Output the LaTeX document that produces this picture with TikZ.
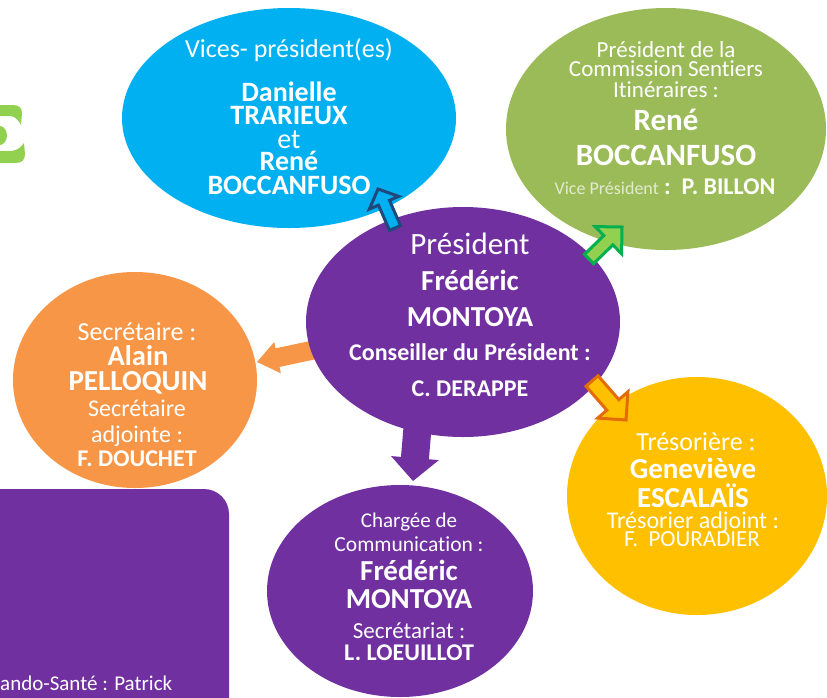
\documentclass[tikz,border=0pt]{standalone}
\usepackage{fontspec}
\setmainfont{Carlito}[Ligatures=NoCommon]
\usetikzlibrary{shapes.geometric,calc}
\definecolor{cblue}{HTML}{00B0F0}
\definecolor{cgreen}{HTML}{9BBB59}
\definecolor{cpurple}{HTML}{7030A0}
\definecolor{corange}{HTML}{F79646}
\definecolor{cyellow}{HTML}{FFC000}
\definecolor{egreen}{HTML}{92D050}
\definecolor{dblue}{HTML}{1F497D}
\definecolor{lgreen}{HTML}{92D050}
\definecolor{dgreen}{HTML}{00B050}
\definecolor{dorange}{HTML}{E36C09}
\definecolor{vplight}{HTML}{E2EAD0}
\newcommand\myfs[1]{\fontsize{#1}{#1}\selectfont}
% style, from, to, shaft half width, head half width, head length
\newcommand\fatarr[6]{%
  \coordinate (hb) at ($(#3)!#6!(#2)$);
  \path[#1] ($(#2)!#4!90:(#3)$) -- ($(hb)!#4!-90:(#2)$) -- ($(hb)!#5!-90:(#2)$) -- (#3)
    -- ($(hb)!#5!90:(#2)$) -- ($(hb)!#4!90:(#2)$) -- ($(#2)!#4!-90:(#3)$) -- cycle;
}
\begin{document}
\begin{tikzpicture}[x=1pt,y=-1pt,
  bubble/.style={ellipse, inner sep=0pt, draw=none},
  txt/.style={anchor=base, inner sep=0pt, text=white},
  outarrow/.style={line width=3pt, line join=miter, miter limit=10}]
\useasboundingbox (0,0) rectangle (827,697);
\clip (0,0) rectangle (827,697);
\fill[white] (0,0) rectangle (827,697);

% decorative green letter fragment
\fill[egreen] (0,105) -- (13,105) .. controls (19,105) and (22,108) .. (22,113) -- (21,125)
  .. controls (19,121) and (16,117) .. (11,116) -- (0,116) -- cycle;
\fill[egreen] (0,163) -- (15,163) .. controls (22,163) and (25,160) .. (25,154) -- (24,143)
  .. controls (21,147) and (18,150) .. (12,151) -- (0,151) -- cycle;
\fill[egreen] (0,126) .. controls (4,126) and (7,131) .. (7,135.5) .. controls (7,140) and (4,145) .. (0,145) -- cycle;

% bubbles
\node[bubble, fill=cblue, minimum width=334pt, minimum height=220pt] (vp) at (289,118) {};
\node[bubble, fill=cgreen, minimum width=320pt, minimum height=242pt] (cs) at (666,129) {};
\node[bubble, fill=corange, minimum width=244pt, minimum height=216pt] (sec) at (135,380) {};
\node[bubble, fill=cyellow, minimum width=260pt, minimum height=238pt] (tre) at (697,496) {};
\node[bubble, fill=cpurple, minimum width=266pt, minimum height=212pt] (com) at (400,591) {};
\fill[cpurple, rounded corners=25pt] (-40,489) rectangle (229,740);

% arrow to secretary (behind president)
\coordinate (a4s) at (318,349);
\coordinate (a4e) at (257,362);
\fatarr{fill=corange}{a4s}{a4e}{9.5pt}{16pt}{21pt}

\node[bubble, fill=cpurple, minimum width=314pt, minimum height=230pt] (pre) at (463,322) {};

% arrow down to communication
\coordinate (a5s) at (419,410);
\coordinate (a5e) at (413,481);
\fatarr{fill=cpurple}{a5s}{a5e}{14pt}{24pt}{23pt}

% outlined arrows
\coordinate (a1s) at (395,228);
\coordinate (a1e) at (378,189);
\fatarr{outarrow, fill=cblue, draw=dblue}{a1s}{a1e}{6pt}{16pt}{15pt}
\coordinate (a2s) at (589,259);
\coordinate (a2e) at (622,227);
\fatarr{outarrow, fill=lgreen, draw=dgreen}{a2s}{a2e}{6.5pt}{19pt}{19pt}
\coordinate (a3s) at (592,381);
\coordinate (a3e) at (626,420);
\fatarr{outarrow, fill=cyellow, draw=dorange}{a3s}{a3e}{8pt}{20pt}{20pt}

% texts: vice presidents
\node[txt, font=\myfs{26}] (vp1) at (289,57) {Vices- président(es)};
\node[txt, font=\myfs{28}\bfseries] (vp2) at (289,101) {Danielle};
\node[txt, font=\myfs{28}\bfseries] (vp3) at (289,124) {TRARIEUX};
\node[txt, font=\myfs{28}] (vp4) at (289,148) {et};
\node[txt, font=\myfs{28}\bfseries] (vp5) at (289,170) {René};
\node[txt, font=\myfs{28}\bfseries] (vp6) at (289,194) {BOCCANFUSO};

% commission
\node[txt, font=\myfs{23}] (cs1) at (666,57) {Président de la};
\node[txt, font=\myfs{23}] (cs2) at (666,76) {Commission Sentiers};
\node[txt, font=\myfs{23}] (cs3) at (666,97) {Itinéraires :};
\node[txt, font=\myfs{31}\bfseries] (cs4) at (666,130) {René};
\node[txt, font=\myfs{31}\bfseries] (cs5) at (666,165) {BOCCANFUSO};
\node[txt] (cs6) at (665,194) {{\myfs{18}\color{vplight}Vice Président}\myfs{24}\bfseries\ :\ \ P. BILLON};

% president
\node[txt, font=\myfs{31}] (p1) at (470,254) {Président};
\node[txt, font=\myfs{29}\bfseries] (p2) at (470,290) {Frédéric};
\node[txt, font=\myfs{29}\bfseries] (p3) at (470,326) {MONTOYA};
\node[txt, font=\myfs{24}\bfseries] (p4) at (470,360) {Conseiller du Président :};
\node[txt, font=\myfs{24}\bfseries] (p5) at (470,396) {C. DERAPPE};

% secretary
\node[txt, font=\myfs{26}] (s1) at (137,340) {Secrétaire :};
\node[txt, font=\myfs{28.5}\bfseries] (s2) at (138,365) {Alain};
\node[txt, font=\myfs{29}\bfseries] (s3) at (138,390) {PELLOQUIN};
\node[txt, font=\myfs{24}] (s4) at (137,416) {Secrétaire};
\node[txt, font=\myfs{24}] (s5) at (137,442) {adjointe :};
\node[txt, font=\myfs{24}\bfseries] (s6) at (137,466) {F. DOUCHET};

% treasurer
\node[txt, font=\myfs{26}] (t1) at (696,450) {Trésorière :};
\node[txt, font=\myfs{29}\bfseries] (t2) at (693,478) {Geneviève};
\node[txt, font=\myfs{29}\bfseries] (t3) at (693,507) {ESCALAÏS};
\node[txt, font=\myfs{24}] (t4) at (693,528) {Trésorier adjoint :};
\node[txt, font=\myfs{23}] (t5) at (692,546) {F.\ \ POURADIER};

% communication
\node[txt, font=\myfs{21}] (c1) at (409,527) {Chargée de};
\node[txt, font=\myfs{21.5}] (c2) at (409,551) {Communication :};
\node[txt, font=\myfs{29}\bfseries] (c3) at (409,580) {Frédéric};
\node[txt, font=\myfs{29}\bfseries] (c4) at (409,608) {MONTOYA};
\node[txt, font=\myfs{23}] (c5) at (409,638) {Secrétariat :};
\node[txt, font=\myfs{24}\bfseries] (c6) at (409,660) {L. LOEUILLOT};

% box text
\node[txt, anchor=base west, font=\myfs{21}] (rt) at (0,690) {ando-Santé : Patrick};
\end{tikzpicture}
\end{document}
